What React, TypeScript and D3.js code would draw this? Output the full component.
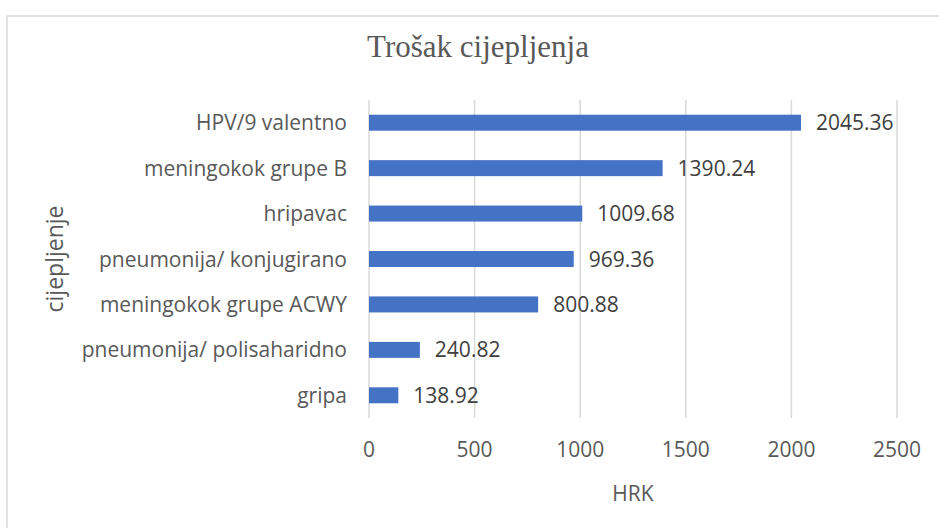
import React from "react";
import * as d3 from "d3";

const categories = [
  "HPV/9 valentno ",
  "meningokok grupe B",
  "hripavac",
  "pneumonija/ konjugirano",
  "meningokok grupe ACWY",
  "pneumonija/ polisaharidno",
  "gripa",
];
const values = [2045.36, 1390.24, 1009.68, 969.36, 800.88, 240.82, 138.92];
const xTicks = [0, 500, 1000, 1500, 2000, 2500];
const title = "Trošak cijepljenja";
const xTitle = "HRK";
const yTitle = "cijepljenje";

const W = 939;
const H = 528;
const FONT = "'Open Sans', sans-serif";

export default function App() {
  const x = d3.scaleLinear().domain([0, 2500]).range([369, 897]);
  const y = d3
    .scaleBand<string>()
    .domain(categories)
    .range([100, 418])
    .paddingInner(0.648)
    .paddingOuter(0.324);
  const bw = y.bandwidth();

  return (
    <svg
      width={W}
      height={H}
      style={{ position: "absolute", left: 0, top: 0, background: "#fff" }}
    >
      <rect x={0} y={0} width={W} height={H} fill="#fff" />
      <rect
        x={7}
        y={16}
        width={W + 20}
        height={H + 20}
        fill="#fff"
        stroke="#d9d9d9"
        strokeWidth={1.5}
      />
      <text
        x={478}
        y={57}
        textAnchor="middle"
        fontFamily="'Liberation Serif', 'Times New Roman', serif"
        fontSize={31}
        fill="#595959"
      >
        {title}
      </text>
      {xTicks.map((t) => (
        <line
          key={"g" + t}
          x1={x(t)}
          x2={x(t)}
          y1={100}
          y2={418}
          stroke="#d9d9d9"
          strokeWidth={1.5}
        />
      ))}
      {categories.map((c, i) => (
        <rect
          key={"b" + c}
          x={x(0)}
          y={y(c)!}
          width={x(values[i]) - x(0)}
          height={bw}
          fill="#4472c4"
        />
      ))}
      {categories.map((c, i) => (
        <text
          key={"v" + c}
          x={x(values[i]) + 15}
          y={y(c)! + bw / 2}
          dy="0.36em"
          fontFamily={FONT}
          fontSize={21}
          fill="#404040"
        >
          {values[i].toFixed(2)}
        </text>
      ))}
      {categories.map((c) => (
        <text
          key={"c" + c}
          x={347}
          y={y(c)! + bw / 2}
          dy="0.36em"
          textAnchor="end"
          fontFamily={FONT}
          fontSize={21}
          fill="#595959"
        >
          {c.trimEnd()}
        </text>
      ))}
      {xTicks.map((t) => (
        <text
          key={"t" + t}
          x={x(t)}
          y={457}
          textAnchor="middle"
          fontFamily={FONT}
          fontSize={21}
          fill="#595959"
        >
          {t}
        </text>
      ))}
      <text
        x={633}
        y={501}
        textAnchor="middle"
        fontFamily={FONT}
        fontSize={21}
        fill="#595959"
      >
        {xTitle}
      </text>
      <text
        transform={`translate(63, 259) rotate(-90)`}
        textAnchor="middle"
        fontFamily={FONT}
        fontSize={23}
        fill="#595959"
      >
        {yTitle}
      </text>
    </svg>
  );
}
